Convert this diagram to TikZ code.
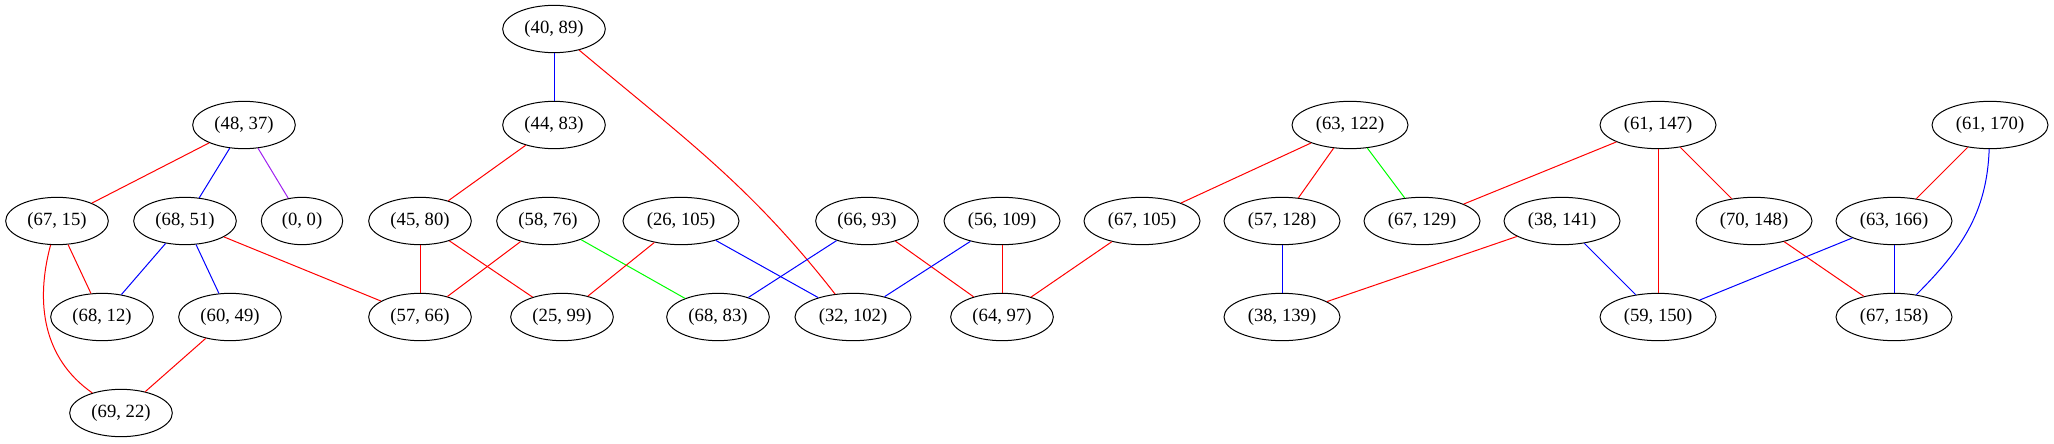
\documentclass[tikz,border=0pt]{standalone}
\usepackage{fontspec}
\setmainfont{Liberation Serif}
\usetikzlibrary{shapes.geometric}
\definecolor{gvred}{HTML}{FF0000}
\definecolor{gvblue}{HTML}{0000FF}
\definecolor{gvgreen}{HTML}{00FF00}
\definecolor{gvpurple}{HTML}{A020F0}
\begin{document}
\begin{tikzpicture}[x=0.75pt,y=-0.75pt,
  gn/.style={draw=black,line width=0.75pt,ellipse,inner sep=0pt,minimum width=77pt,minimum height=35.5pt,font=\fontsize{14pt}{16pt}\selectfont},
  gw/.style={gn,minimum width=87pt},
  gs/.style={gn,minimum width=61pt},
  e/.style={line width=0.75pt},
  er/.style={e,draw=gvred},
  eb/.style={e,draw=gvblue},
  eg/.style={e,draw=gvgreen},
  ep/.style={e,draw=gvpurple}]
\useasboundingbox (0,0) rectangle (2054,443);
% rank 0
\node[gn] (n4089) at (554,29) {(40, 89)};
% rank 1
\node[gn] (n4483) at (554,125) {(44, 83)};
\node[gn] (n4837) at (244,125) {(48, 37)};
\node[gw] (n63122) at (1350,125) {(63, 122)};
\node[gw] (n61147) at (1658,125) {(61, 147)};
\node[gw] (n61170) at (1990,125) {(61, 170)};
% rank 2
\node[gn] (n6715) at (57,221) {(67, 15)};
\node[gn] (n6851) at (185,221) {(68, 51)};
\node[gs] (n00) at (302,221) {(0, 0)};
\node[gn] (n4580) at (420,221) {(45, 80)};
\node[gn] (n5876) at (548,221) {(58, 76)};
\node[gw] (n26105) at (681,221) {(26, 105)};
\node[gn] (n6693) at (867,221) {(66, 93)};
\node[gw] (n56109) at (1002,221) {(56, 109)};
\node[gw] (n67105) at (1142,221) {(67, 105)};
\node[gw] (n57128) at (1282,221) {(57, 128)};
\node[gw] (n67129) at (1422,221) {(67, 129)};
\node[gw] (n38141) at (1562,221) {(38, 141)};
\node[gw] (n70148) at (1754,221) {(70, 148)};
\node[gw] (n63166) at (1894,221) {(63, 166)};
% rank 3
\node[gn] (n6812) at (102,317) {(68, 12)};
\node[gn] (n6049) at (230,317) {(60, 49)};
\node[gn] (n5766) at (420,317) {(57, 66)};
\node[gn] (n2599) at (562,317) {(25, 99)};
\node[gn] (n6883) at (718,317) {(68, 83)};
\node[gw] (n32102) at (853,317) {(32, 102)};
\node[gn] (n6497) at (1002,317) {(64, 97)};
\node[gw] (n38139) at (1282,317) {(38, 139)};
\node[gw] (n59150) at (1658,317) {(59, 150)};
\node[gw] (n67158) at (1894,317) {(67, 158)};
% rank 4
\node[gn] (n6922) at (121,413) {(69, 22)};
% edges
\draw[eb] (n4089) -- (n4483);
\draw[er] (n4089) to[out=-40,in=128] (n32102);
\draw[er] (n4483) -- (n4580);
\draw[er] (n4837) -- (n6715);
\draw[eb] (n4837) -- (n6851);
\draw[ep] (n4837) -- (n00);
\draw[er] (n6715) -- (n6812);
\draw[er] (n6715) to[out=-105,in=145] (n6922);
\draw[eb] (n6851) -- (n6812);
\draw[eb] (n6851) -- (n6049);
\draw[er] (n6851) -- (n5766);
\draw[er] (n6049) -- (n6922);
\draw[er] (n4580) -- (n5766);
\draw[er] (n4580) -- (n2599);
\draw[er] (n5876) -- (n5766);
\draw[eg] (n5876) -- (n6883);
\draw[er] (n26105) -- (n2599);
\draw[eb] (n26105) -- (n32102);
\draw[eb] (n6693) -- (n6883);
\draw[er] (n6693) -- (n6497);
\draw[eb] (n56109) -- (n32102);
\draw[er] (n56109) -- (n6497);
\draw[er] (n67105) -- (n6497);
\draw[er] (n63122) -- (n67105);
\draw[er] (n63122) -- (n57128);
\draw[eg] (n63122) -- (n67129);
\draw[eb] (n57128) -- (n38139);
\draw[er] (n38141) -- (n38139);
\draw[eb] (n38141) -- (n59150);
\draw[er] (n61147) -- (n67129);
\draw[er] (n61147) -- (n59150);
\draw[er] (n61147) -- (n70148);
\draw[er] (n70148) -- (n67158);
\draw[eb] (n63166) -- (n59150);
\draw[eb] (n63166) -- (n67158);
\draw[er] (n61170) -- (n63166);
\draw[eb] (n61170) to[out=-92,in=45] (n67158);
\end{tikzpicture}
\end{document}
